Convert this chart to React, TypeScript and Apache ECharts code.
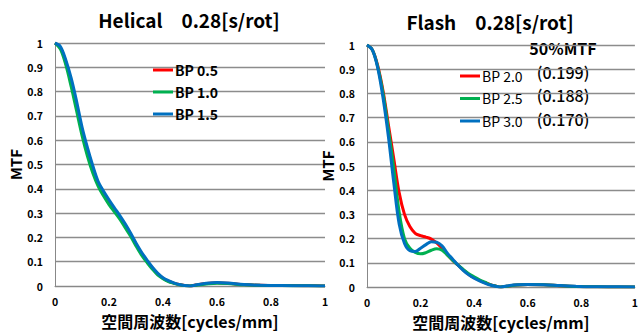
import React, { useEffect, useRef } from "react";
import * as echarts from "echarts";

const helicalX = [0, 0.02, 0.04, 0.06, 0.08, 0.1, 0.12, 0.14, 0.16, 0.18, 0.2, 0.22, 0.24, 0.26, 0.28, 0.3, 0.32, 0.34, 0.36, 0.38, 0.4, 0.42, 0.44, 0.46, 0.48, 0.5, 0.52, 0.56, 0.6, 0.64, 0.7, 0.76, 0.82, 0.88, 0.94, 1];
const bp05 = [1, 0.98, 0.92, 0.84, 0.74, 0.64, 0.555, 0.48, 0.42, 0.38, 0.345, 0.315, 0.285, 0.25, 0.213, 0.172, 0.135, 0.104, 0.075, 0.05, 0.032, 0.02, 0.012, 0.006, 0.002, 0, 0.004, 0.01, 0.013, 0.011, 0.006, 0.003, 0.002, 0.002, 0.001, 0];
const bp10 = [1, 0.975, 0.91, 0.82, 0.72, 0.62, 0.535, 0.465, 0.41, 0.37, 0.335, 0.305, 0.275, 0.24, 0.205, 0.165, 0.128, 0.098, 0.07, 0.046, 0.03, 0.018, 0.011, 0.005, 0.002, 0, 0.003, 0.008, 0.011, 0.01, 0.005, 0.003, 0.002, 0.001, 0.001, 0];
const bp15 = [1, 0.985, 0.93, 0.855, 0.76, 0.655, 0.57, 0.495, 0.43, 0.39, 0.355, 0.322, 0.29, 0.256, 0.218, 0.177, 0.14, 0.108, 0.078, 0.053, 0.034, 0.022, 0.013, 0.006, 0.002, 0, 0.004, 0.011, 0.014, 0.012, 0.006, 0.003, 0.002, 0.001, 0.001, 0];

const flashX = [0, 0.02, 0.04, 0.06, 0.08, 0.1, 0.12, 0.14, 0.16, 0.18, 0.2, 0.22, 0.24, 0.26, 0.28, 0.3, 0.32, 0.34, 0.36, 0.38, 0.4, 0.42, 0.44, 0.46, 0.48, 0.5, 0.52, 0.56, 0.6, 0.66, 0.72, 0.78, 0.84, 0.9, 1];
const bp20 = [1, 0.98, 0.915, 0.81, 0.67, 0.53, 0.39, 0.3, 0.25, 0.222, 0.212, 0.206, 0.198, 0.182, 0.16, 0.133, 0.11, 0.09, 0.07, 0.052, 0.038, 0.027, 0.018, 0.01, 0.004, 0, 0.003, 0.008, 0.01, 0.009, 0.005, 0.002, 0.001, 0, 0];
const bp25 = [1, 0.98, 0.91, 0.8, 0.65, 0.49, 0.31, 0.2, 0.16, 0.143, 0.137, 0.142, 0.152, 0.158, 0.152, 0.132, 0.11, 0.09, 0.072, 0.055, 0.042, 0.03, 0.02, 0.01, 0.004, 0, 0.003, 0.008, 0.01, 0.009, 0.005, 0.002, 0.001, 0, 0];
const bp30 = [1, 0.98, 0.905, 0.78, 0.62, 0.43, 0.26, 0.18, 0.15, 0.147, 0.16, 0.175, 0.187, 0.185, 0.17, 0.14, 0.115, 0.09, 0.068, 0.05, 0.036, 0.025, 0.016, 0.008, 0.003, 0, 0.004, 0.009, 0.01, 0.009, 0.006, 0.003, 0.001, 0.001, 0];

const helicalNames = ["BP 0.5", "BP 1.0", "BP 1.5"];
const flashNames = ["BP 2.0", "BP 2.5", "BP 3.0"];
const mtf50Labels = ["50%MTF", "(0.199)", "(0.188)", "(0.170)"];
const titles = ["Helical\u30000.28[s/rot]", "Flash\u30000.28[s/rot]"];
const xName = "空間周波数[cycles/mm]";
const yName = "MTF";
const colors = ["#FF0000", "#00B050", "#0070C0"];

const FONT = "'Noto Sans CJK JP', 'Noto Sans', sans-serif";

function pairs(xs: number[], ys: number[]) {
  return xs.map((x, i) => [x, ys[i]]);
}

export default function App() {
  const ref = useRef<HTMLDivElement>(null);
  useEffect(() => {
    document.body.style.margin = "0";
    const chart = echarts.init(ref.current!, undefined, { renderer: "svg" });
    const xAxisBase = (gridIndex: number, gap: number) => ({
      type: "value" as const,
      gridIndex,
      min: 0,
      max: 1,
      interval: 0.2,
      name: xName,
      nameLocation: "middle" as const,
      nameGap: gap,
      nameTextStyle: { fontFamily: FONT, fontSize: 16, fontWeight: "bold", color: "#000" },
      axisLine: { show: true, lineStyle: { color: "#888", width: 1 } },
      axisTick: { show: false },
      splitLine: { show: false },
      axisLabel: { fontFamily: FONT, fontSize: 10.5, fontWeight: "bold", color: "#000", margin: 10 },
    });
    const yAxisBase = (gridIndex: number, gap: number) => ({
      type: "value" as const,
      gridIndex,
      min: 0,
      max: 1,
      interval: 0.1,
      name: yName,
      nameLocation: "middle" as const,
      nameGap: gap,
      nameTextStyle: { fontFamily: FONT, fontSize: 15, fontWeight: "bold", color: "#000" },
      axisLine: { show: true, lineStyle: { color: "#888", width: 1 } },
      axisTick: { show: false },
      splitLine: { show: true, lineStyle: { color: "#8c8c8c", width: 1.3 } },
      axisLabel: {
        fontFamily: FONT, fontSize: 10.5, fontWeight: "bold", color: "#000", margin: 12,
        formatter: (v: number) => (v === 0 || v === 1 ? String(v) : v.toFixed(1)),
      },
    });
    const mkSeries = (name: string, xs: number[], ys: number[], idx: number, c: string) => ({
      name,
      type: "line" as const,
      xAxisIndex: idx,
      yAxisIndex: idx,
      data: pairs(xs, ys),
      smooth: 0.35,
      showSymbol: false,
      symbol: "none",
      lineStyle: { color: c, width: 3 },
      itemStyle: { color: c },
    });
    const legendBase = {
      orient: "vertical" as const,
      icon: "rect",
      itemWidth: 20,
      itemHeight: 3,
      itemGap: 8,
      textStyle: { fontFamily: FONT, fontSize: 14, color: "#000", padding: [0, 0, 0, -3] },
      selectedMode: false,
      padding: 0,
    };
    chart.setOption({
      animation: false,
      backgroundColor: "#fff",
      title: [
        { text: titles[0], left: 184, top: 5, textAlign: "center", textStyle: { fontFamily: FONT, fontSize: 19, fontWeight: "bold", color: "#000" } },
        { text: titles[1], left: 485, top: 7, textAlign: "center", textStyle: { fontFamily: FONT, fontSize: 19, fontWeight: "bold", color: "#000" } },
      ],
      grid: [
        { left: 55, top: 43, width: 270, height: 243 },
        { left: 367, top: 45, width: 273, height: 244 },
      ],
      xAxis: [xAxisBase(0, 27), xAxisBase(1, 27)],
      yAxis: [yAxisBase(0, 30), yAxisBase(1, 26)],
      legend: [
        { ...legendBase, data: helicalNames, left: 153, top: 63, textStyle: { ...legendBase.textStyle, fontWeight: "bold" } },
        { ...legendBase, data: flashNames, left: 460, top: 69, itemGap: 8.5 },
      ],
      graphic: mtf50Labels.map((t, i) => ({
        type: "text",
        x: 563,
        y: [48, 72, 95, 119][i],
        style: {
          text: t,
          font: `${i === 0 ? "bold " : "500 "}16px ${FONT}`,
          fill: "#000",
          align: "center",
          verticalAlign: "middle",
        },
      })),
      series: [
        mkSeries(helicalNames[0], helicalX, bp05, 0, colors[0]),
        mkSeries(helicalNames[1], helicalX, bp10, 0, colors[1]),
        mkSeries(helicalNames[2], helicalX, bp15, 0, colors[2]),
        mkSeries(flashNames[0], flashX, bp20, 1, colors[0]),
        mkSeries(flashNames[1], flashX, bp25, 1, colors[1]),
        mkSeries(flashNames[2], flashX, bp30, 1, colors[2]),
      ],
    });
    return () => chart.dispose();
  }, []);
  return <div ref={ref} style={{ position: "absolute", left: 0, top: 0, width: 641, height: 335 }} />;
}
